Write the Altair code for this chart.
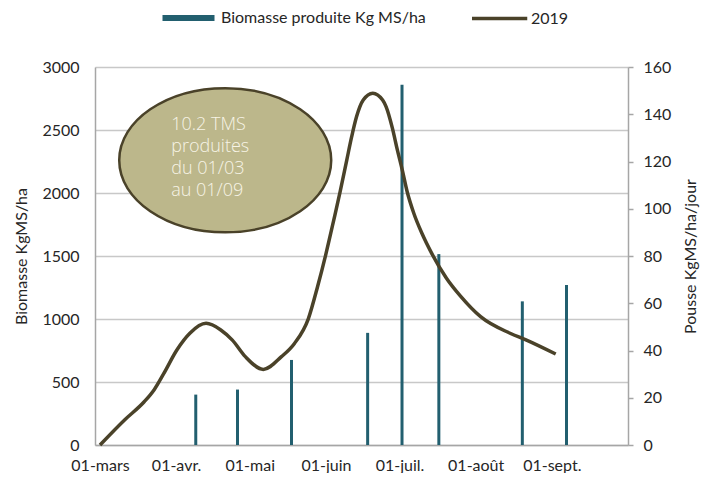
import altair as alt
import pandas as pd

# ---- data ----
bar_dates = ["2019-04-09", "2019-04-26", "2019-05-18", "2019-06-18",
             "2019-07-02", "2019-07-17", "2019-08-20", "2019-09-07"]
biomasse = [400, 440, 675, 890, 2860, 1515, 1140, 1270]

# line: days after 01/03/2019 and daily growth
line_days = [0, 10.0, 18.0, 22.0, 26.0, 31.3, 36.6, 43.2, 49.2, 53.9, 59.2, 66.5,
             73.9, 79.2, 84.8, 88.6, 91.9, 95.2, 97.8, 100.5, 102.5, 104.5, 107.2,
             111.1, 115.1, 116.5, 119.1, 121.1, 123.1, 125.1, 127.8, 131.1, 135.1,
             141.1, 147.0, 155.0, 167.0, 173.7, 185.6]
pousse = [0, 10.6, 18.3, 23.3, 30.3, 40.2, 47.3, 51.5, 48.7, 44.4, 37.4, 32,
          37.4, 43.0, 53.3, 67.0, 80.4, 95.2, 107.2, 120.6, 130.5, 139, 146,
          148.9, 146, 143.2, 134, 124.9, 116.4, 107.2, 98.1, 89.6, 81.1,
          70.6, 62.8, 54.3, 47.3, 44.4, 38.5]

bar_label = "Biomasse produite Kg MS/ha"
line_label = "2019"
note_text = "10.2 TMS\nproduites\ndu 01/03\nau 01/09"
note_date = ["2019-04-21"]
note_y = [2260]
note_text_date = ["2019-03-30"]
note_text_y = [2540]

month_ticks = [3, 4, 5, 6, 7, 8, 9]

start = pd.Timestamp("2019-03-01", tz="UTC")
df_bar = pd.DataFrame({"date": bar_dates, "biomasse": biomasse, "serie": bar_label})
df_line = pd.DataFrame({
    "date": [(start + pd.to_timedelta(d, unit="D")).strftime("%Y-%m-%dT%H:%M:%SZ") for d in line_days],
    "pousse": pousse, "serie": line_label})
df_note = pd.DataFrame({"date": note_date, "y": note_y})
df_note_text = pd.DataFrame({"date": note_text_date, "y": note_text_y, "t": [note_text]})

FONT = "Lato"
TXT = "#262626"

xscale = alt.Scale(type="utc", nice=False,
                   domain=[alt.DateTime(year=2019, month=3, date=1, utc=True),
                           alt.DateTime(year=2019, month=9, date=30, utc=True)])
xaxis = alt.Axis(
    title=None,
    values=[alt.DateTime(year=2019, month=m, date=1, utc=True) for m in month_ticks],
    labelExpr="'01-' + ['janv.','févr.','mars','avr.','mai','juin','juil.','août','sept.','oct.','nov.','déc.'][utcmonth(datum.value)]",
    grid=False, ticks=False, domainColor="#A6A6A6", domainWidth=1.5,
    labelPadding=12, labelFontSize=16, labelFont=FONT, labelColor=TXT,
)
x = alt.X("date:T", scale=xscale, axis=xaxis)
yleft_scale = alt.Scale(domain=[0, 3000], nice=False)

bars = alt.Chart(df_bar).mark_bar(size=3).encode(
    x=x,
    y=alt.Y("biomasse:Q", scale=yleft_scale,
            axis=alt.Axis(title="Biomasse KgMS/ha", values=list(range(0, 3001, 500)),
                          format="d",
                          grid=True, gridColor="#C8C8C8", gridWidth=1.5,
                          ticks=False, domainColor="#A6A6A6", domainWidth=1.5,
                          labelPadding=16, labelFontSize=16, labelFont=FONT, labelColor=TXT,
                          titleFont=FONT, titleFontSize=16, titleFontWeight="normal",
                          titleColor=TXT, titlePadding=12)),
    fill=alt.Fill("serie:N", scale=alt.Scale(range=["#225F6F"]),
                  legend=alt.Legend(title=None, orient="none", legendX=66, legendY=-57,
                                    symbolType="M-1,-0.45H7V0.45H-1Z", symbolSize=169,
                                    symbolStrokeWidth=0, labelOffset=44, labelLimit=0,
                                    labelFont=FONT, labelFontSize=16, labelColor=TXT,
                                    padding=0)),
)

ellipse = alt.Chart(df_note).mark_point(
    shape="M-1,0A1,0.68,0,1,0,1,0A1,0.68,0,1,0,-1,0Z",
    size=44944, filled=True, fill="#BCB78B", stroke="#4A4229", strokeWidth=2.5, opacity=1,
).encode(
    x=alt.X("date:T", scale=xscale),
    y=alt.Y("y:Q", scale=yleft_scale),
)

note = alt.Chart(df_note_text).mark_text(
    align="left", baseline="middle", lineBreak="\n", lineHeight=22,
    font="Open Sans", fontSize=18, fontWeight=300, color="#F7F4E6",
).encode(
    x=alt.X("date:T", scale=xscale),
    y=alt.Y("y:Q", scale=yleft_scale),
    text="t:N",
)

line = alt.Chart(df_line).mark_line(interpolate="monotone", strokeWidth=3.5).encode(
    x=x,
    y=alt.Y("pousse:Q", scale=alt.Scale(domain=[0, 160], nice=False),
            axis=alt.Axis(orient="right", title="Pousse KgMS/ha/jour",
                          values=list(range(0, 161, 20)), grid=False,
                          ticks=True, tickSize=5, tickColor="#A6A6A6", tickWidth=1.5,
                          domainColor="#A6A6A6", domainWidth=1.5,
                          labelPadding=10, labelFontSize=16, labelFont=FONT, labelColor=TXT,
                          titleFont=FONT, titleFontSize=16, titleFontWeight="normal",
                          titleColor=TXT, titleAngle=270, titlePadding=28)),
    stroke=alt.Stroke("serie:N", scale=alt.Scale(range=["#4A4229"]),
                      legend=alt.Legend(title=None, orient="none", legendX=375, legendY=-57,
                                        symbolType="M-1,0H7.5", symbolSize=169,
                                        symbolStrokeWidth=3.5, labelOffset=44, labelLimit=0,
                                        labelFont=FONT, labelFontSize=16, labelColor=TXT,
                                        padding=0)),
)

chart = alt.layer(alt.layer(bars, ellipse, note), line).resolve_scale(
    y="independent", fill="independent", stroke="independent"
).properties(
    width=533, height=378,
    autosize=alt.AutoSizeParams(type="none"),
    padding={"left": 87, "top": 59, "right": 77, "bottom": 28},
).configure_view(stroke=None)

chart.save("out.html", embed_options={"renderer": "svg", "actions": False})
